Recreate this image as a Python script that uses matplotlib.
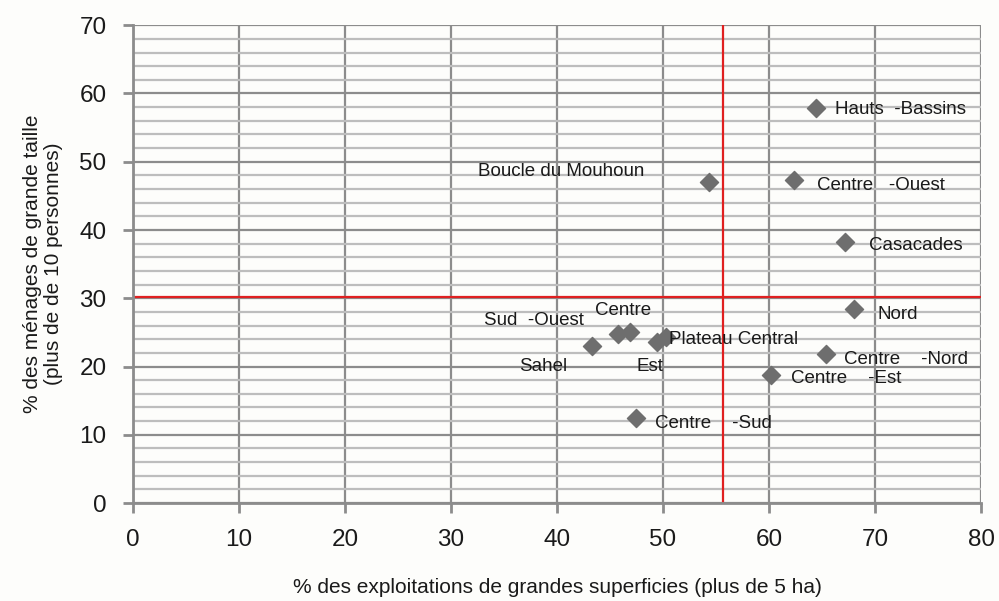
import matplotlib.pyplot as plt
from matplotlib.ticker import MultipleLocator

plt.rcParams["font.family"] = ["Liberation Sans", "DejaVu Sans"]

regions = ["Hauts  -Bassins", "Boucle du Mouhoun", "Centre   -Ouest", "Casacades",
           "Nord", "Centre    -Nord", "Centre    -Est", "Centre    -Sud",
           "Sud  -Ouest", "Sahel", "Centre", "Est", "Plateau Central"]
pct_exploitations = [64.4, 54.3, 62.4, 67.2, 68.0, 65.4, 60.2, 47.5,
                     45.8, 43.3, 46.9, 49.4, 50.3]
pct_menages = [57.9, 47.0, 47.3, 38.3, 28.4, 21.9, 18.8, 12.4,
               24.7, 23.0, 25.0, 23.6, 24.3]
x_threshold = 55.7
y_threshold = 30.2

# label offsets in points (dx, dy) and alignment
offsets = [(14, -1, "left"), (-46, 8, "right"), (16, -4, "left"), (17, -3, "left"),
           (17, -4, "left"), (13, -4, "left"), (14, -3, "left"), (13, -4, "left"),
           (-25, 10, "right"), (-18, -15, "right"), (-5, 16, "center"),
           (-5, -18, "center"), (2, -2, "left")]

fig = plt.figure(figsize=(9.99, 6.01), dpi=100)
fig.patch.set_facecolor("#fdfdfb")
ax = fig.add_axes([0.133, 0.163, 0.849, 0.795])
ax.set_facecolor("#fdfdfb")

ax.set_xlim(0, 80)
ax.set_ylim(0, 70)
ax.xaxis.set_major_locator(MultipleLocator(10))
ax.yaxis.set_major_locator(MultipleLocator(10))
ax.yaxis.set_minor_locator(MultipleLocator(2))

ax.grid(which="major", axis="both", color="#8c8c8c", linewidth=1.6)
ax.grid(which="minor", axis="y", color="#bdbdbd", linewidth=1.6)
ax.set_axisbelow(True)

for side in ["top", "right"]:
    ax.spines[side].set_visible(False)
for side in ["left", "bottom"]:
    ax.spines[side].set_color("#8c8c8c")
    ax.spines[side].set_linewidth(2)

ax.tick_params(which="major", direction="out", length=7, width=2, color="#8c8c8c",
               labelsize=17.5, labelcolor="#1a1a1a", pad=12)
ax.tick_params(which="minor", length=0)

ax.axvline(x_threshold, color="#e02020", linewidth=1.6)
ax.axhline(y_threshold, color="#e02020", linewidth=1.6)

ax.scatter(pct_exploitations, pct_menages, marker="D", s=85, color="#6e6e6e", zorder=3)

for name, x, y, (dx, dy, ha) in zip(regions, pct_exploitations, pct_menages, offsets):
    ax.annotate(name, (x, y), xytext=(dx, dy), textcoords="offset points",
                ha=ha, va="center", fontsize=13.5, color="#1a1a1a")

ax.set_xlabel("% des exploitations de grandes superficies (plus de 5 ha)",
              fontsize=15, color="#1a1a1a", labelpad=19)
ax.set_ylabel("% des ménages de grande taille\n(plus de de 10 personnes)",
              fontsize=15, color="#1a1a1a", labelpad=12, linespacing=1.1)

fig.savefig("out.png", dpi=100, facecolor=fig.get_facecolor())
